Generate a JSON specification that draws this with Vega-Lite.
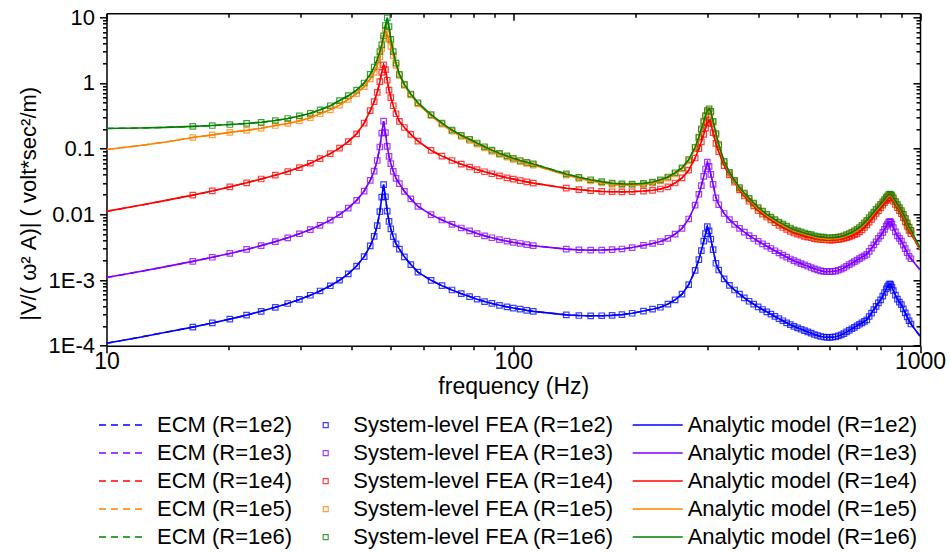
{
  "$schema": "https://vega.github.io/schema/vega-lite/v6.json",
  "width": 813.5,
  "height": 332.4,
  "autosize": {"type": "none"},
  "padding": {"left": 106.5, "top": 13.3, "right": 30, "bottom": 207.3},
  "background": "white",
  "config": {
    "view": {"stroke": null},
    "font": "Liberation Sans",
    "axis": {"grid": false, "tickColor": "black", "domainColor": "black", "tickWidth": 1.5, "domainWidth": 1.5, "labelColor": "black", "titleColor": "black", "labelFont": "Liberation Sans", "titleFont": "Liberation Sans", "titleFontWeight": "normal", "labelFlush": false},
    "legend": {"labelFont": "Liberation Sans", "labelFontSize": 22, "labelColor": "black", "padding": 0, "rowPadding": 0, "labelLimit": 0, "title": null, "direction": "vertical", "orient": "none"}
  },
  "datasets": {
    "curves": [
      {"f": 10, "R1e2": 1.09e-4, "R1e3": 1.09e-3, "R1e4": 0.0111, "R1e5": 0.097, "R1e6": 0.203},
      {"f": 12, "R1e2": 1.335e-4, "R1e3": 1.335e-3, "R1e4": 0.0136, "R1e5": 0.111, "R1e6": 0.206},
      {"f": 14, "R1e2": 1.6e-4, "R1e3": 1.6e-3, "R1e4": 0.0163, "R1e5": 0.126, "R1e6": 0.211},
      {"f": 16.3, "R1e2": 1.92e-4, "R1e3": 1.92e-3, "R1e4": 0.0196, "R1e5": 0.148, "R1e6": 0.218},
      {"f": 18.2, "R1e2": 2.22e-4, "R1e3": 2.22e-3, "R1e4": 0.0227, "R1e5": 0.162, "R1e6": 0.225},
      {"f": 20.1, "R1e2": 2.54e-4, "R1e3": 2.54e-3, "R1e4": 0.0262, "R1e5": 0.177, "R1e6": 0.233},
      {"f": 22.1, "R1e2": 2.92e-4, "R1e3": 2.92e-3, "R1e4": 0.0302, "R1e5": 0.19, "R1e6": 0.242},
      {"f": 24, "R1e2": 3.34e-4, "R1e3": 3.34e-3, "R1e4": 0.0345, "R1e5": 0.205, "R1e6": 0.252},
      {"f": 26, "R1e2": 3.84e-4, "R1e3": 3.84e-3, "R1e4": 0.0395, "R1e5": 0.225, "R1e6": 0.268},
      {"f": 27.9, "R1e2": 4.39e-4, "R1e3": 4.39e-3, "R1e4": 0.0448, "R1e5": 0.242, "R1e6": 0.288},
      {"f": 29.8, "R1e2": 5.06e-4, "R1e3": 5.06e-3, "R1e4": 0.0515, "R1e5": 0.265, "R1e6": 0.315},
      {"f": 31.7, "R1e2": 5.86e-4, "R1e3": 5.86e-3, "R1e4": 0.06, "R1e5": 0.296, "R1e6": 0.345},
      {"f": 33.5, "R1e2": 6.81e-4, "R1e3": 6.81e-3, "R1e4": 0.0705, "R1e5": 0.34, "R1e6": 0.39},
      {"f": 35.5, "R1e2": 8.17e-4, "R1e3": 8.17e-3, "R1e4": 0.084, "R1e5": 0.39, "R1e6": 0.45},
      {"f": 37.4, "R1e2": 9.93e-4, "R1e3": 9.92e-3, "R1e4": 0.102, "R1e5": 0.46, "R1e6": 0.54},
      {"f": 39.3, "R1e2": 1.243e-3, "R1e3": 0.0124, "R1e4": 0.128, "R1e5": 0.56, "R1e6": 0.64},
      {"f": 41.2, "R1e2": 1.632e-3, "R1e3": 0.0163, "R1e4": 0.168, "R1e5": 0.69, "R1e6": 0.78},
      {"f": 43, "R1e2": 2.27e-3, "R1e3": 0.0226, "R1e4": 0.245, "R1e5": 0.88, "R1e6": 1.0},
      {"f": 44.5, "R1e2": 3.3e-3, "R1e3": 0.0328, "R1e4": 0.38, "R1e5": 1.15, "R1e6": 1.35},
      {"f": 45.5, "R1e2": 4.61e-3, "R1e3": 0.0456, "R1e4": 0.52, "R1e5": 1.45, "R1e6": 1.75},
      {"f": 46.3, "R1e2": 6.74e-3, "R1e3": 0.066, "R1e4": 0.72, "R1e5": 1.85, "R1e6": 2.25},
      {"f": 47, "R1e2": 0.011, "R1e3": 0.106, "R1e4": 1.05, "R1e5": 2.5, "R1e6": 3.0},
      {"f": 47.5, "R1e2": 0.0183, "R1e3": 0.172, "R1e4": 1.45, "R1e5": 3.3, "R1e6": 3.8},
      {"f": 48, "R1e2": 0.0284, "R1e3": 0.263, "R1e4": 1.88, "R1e5": 4.8, "R1e6": 5.2},
      {"f": 48.5, "R1e2": 0.0185, "R1e3": 0.175, "R1e4": 1.6, "R1e5": 6.4, "R1e6": 7.5},
      {"f": 49, "R1e2": 0.0112, "R1e3": 0.108, "R1e4": 1.1, "R1e5": 5.6, "R1e6": 9.8},
      {"f": 49.5, "R1e2": 7.82e-3, "R1e3": 0.0765, "R1e4": 0.78, "R1e5": 4.6, "R1e6": 7.2},
      {"f": 50, "R1e2": 5.99e-3, "R1e3": 0.0592, "R1e4": 0.6, "R1e5": 3.6, "R1e6": 4.6},
      {"f": 50.7, "R1e2": 4.56e-3, "R1e3": 0.0452, "R1e4": 0.45, "R1e5": 2.6, "R1e6": 3.0},
      {"f": 51.5, "R1e2": 3.55e-3, "R1e3": 0.0352, "R1e4": 0.34, "R1e5": 1.85, "R1e6": 2.0},
      {"f": 52.5, "R1e2": 2.95e-3, "R1e3": 0.0293, "R1e4": 0.26, "R1e5": 1.3, "R1e6": 1.35},
      {"f": 54, "R1e2": 2.25e-3, "R1e3": 0.0224, "R1e4": 0.21, "R1e5": 0.92, "R1e6": 0.95},
      {"f": 56, "R1e2": 1.72e-3, "R1e3": 0.0172, "R1e4": 0.165, "R1e5": 0.66, "R1e6": 0.68},
      {"f": 58.3, "R1e2": 1.32e-3, "R1e3": 0.0132, "R1e4": 0.13, "R1e5": 0.48, "R1e6": 0.5},
      {"f": 62.8, "R1e2": 9.9e-4, "R1e3": 9.9e-3, "R1e4": 0.094, "R1e5": 0.317, "R1e6": 0.33},
      {"f": 66.8, "R1e2": 8.2e-4, "R1e3": 8.2e-3, "R1e4": 0.077, "R1e5": 0.235, "R1e6": 0.245},
      {"f": 70.7, "R1e2": 7.05e-4, "R1e3": 7.05e-3, "R1e4": 0.066, "R1e5": 0.184, "R1e6": 0.192},
      {"f": 74.5, "R1e2": 6.2e-4, "R1e3": 6.2e-3, "R1e4": 0.058, "R1e5": 0.154, "R1e6": 0.16},
      {"f": 78.1, "R1e2": 5.6e-4, "R1e3": 5.6e-3, "R1e4": 0.0525, "R1e5": 0.133, "R1e6": 0.139},
      {"f": 81.5, "R1e2": 5.1e-4, "R1e3": 5.1e-3, "R1e4": 0.048, "R1e5": 0.117, "R1e6": 0.122},
      {"f": 85, "R1e2": 4.7e-4, "R1e3": 4.7e-3, "R1e4": 0.0445, "R1e5": 0.103, "R1e6": 0.107},
      {"f": 88.6, "R1e2": 4.4e-4, "R1e3": 4.4e-3, "R1e4": 0.0415, "R1e5": 0.091, "R1e6": 0.095},
      {"f": 92.5, "R1e2": 4.12e-4, "R1e3": 4.12e-3, "R1e4": 0.0385, "R1e5": 0.082, "R1e6": 0.085},
      {"f": 96.5, "R1e2": 3.9e-4, "R1e3": 3.9e-3, "R1e4": 0.036, "R1e5": 0.0744, "R1e6": 0.0775},
      {"f": 100, "R1e2": 3.74e-4, "R1e3": 3.74e-3, "R1e4": 0.0344, "R1e5": 0.0686, "R1e6": 0.0715},
      {"f": 104, "R1e2": 3.6e-4, "R1e3": 3.6e-3, "R1e4": 0.0327, "R1e5": 0.0634, "R1e6": 0.066},
      {"f": 108, "R1e2": 3.45e-4, "R1e3": 3.45e-3, "R1e4": 0.0312, "R1e5": 0.0595, "R1e6": 0.062},
      {"f": 112, "R1e2": 3.33e-4, "R1e3": 3.33e-3, "R1e4": 0.0299, "R1e5": 0.0562, "R1e6": 0.0585},
      {"f": 135, "R1e2": 2.95e-4, "R1e3": 2.95e-3, "R1e4": 0.025, "R1e5": 0.0396, "R1e6": 0.0412},
      {"f": 145, "R1e2": 2.88e-4, "R1e3": 2.88e-3, "R1e4": 0.0238, "R1e5": 0.0351, "R1e6": 0.0366},
      {"f": 155, "R1e2": 2.85e-4, "R1e3": 2.85e-3, "R1e4": 0.0229, "R1e5": 0.0323, "R1e6": 0.0336},
      {"f": 165, "R1e2": 2.86e-4, "R1e3": 2.86e-3, "R1e4": 0.0223, "R1e5": 0.0302, "R1e6": 0.0315},
      {"f": 175, "R1e2": 2.9e-4, "R1e3": 2.9e-3, "R1e4": 0.0221, "R1e5": 0.0286, "R1e6": 0.0298},
      {"f": 185, "R1e2": 2.97e-4, "R1e3": 2.97e-3, "R1e4": 0.022, "R1e5": 0.0279, "R1e6": 0.0291},
      {"f": 196, "R1e2": 3.12e-4, "R1e3": 3.12e-3, "R1e4": 0.0221, "R1e5": 0.0277, "R1e6": 0.0289},
      {"f": 209, "R1e2": 3.37e-4, "R1e3": 3.37e-3, "R1e4": 0.0226, "R1e5": 0.0284, "R1e6": 0.0296},
      {"f": 220, "R1e2": 3.6e-4, "R1e3": 3.6e-3, "R1e4": 0.0232, "R1e5": 0.0298, "R1e6": 0.031},
      {"f": 230, "R1e2": 3.85e-4, "R1e3": 3.85e-3, "R1e4": 0.0243, "R1e5": 0.0322, "R1e6": 0.0335},
      {"f": 240, "R1e2": 4.3e-4, "R1e3": 4.3e-3, "R1e4": 0.0262, "R1e5": 0.0355, "R1e6": 0.037},
      {"f": 250, "R1e2": 5.0e-4, "R1e3": 5.0e-3, "R1e4": 0.03, "R1e5": 0.0413, "R1e6": 0.043},
      {"f": 260, "R1e2": 6.1e-4, "R1e3": 6.1e-3, "R1e4": 0.036, "R1e5": 0.049, "R1e6": 0.051},
      {"f": 270, "R1e2": 8.5e-4, "R1e3": 8.5e-3, "R1e4": 0.047, "R1e5": 0.065, "R1e6": 0.068},
      {"f": 280, "R1e2": 1.4e-3, "R1e3": 0.0138, "R1e4": 0.072, "R1e5": 0.1, "R1e6": 0.105},
      {"f": 286, "R1e2": 2.05e-3, "R1e3": 0.0202, "R1e4": 0.1, "R1e5": 0.143, "R1e6": 0.15},
      {"f": 290, "R1e2": 2.8e-3, "R1e3": 0.0273, "R1e4": 0.127, "R1e5": 0.19, "R1e6": 0.2},
      {"f": 294, "R1e2": 3.9e-3, "R1e3": 0.0378, "R1e4": 0.165, "R1e5": 0.25, "R1e6": 0.26},
      {"f": 297, "R1e2": 5.1e-3, "R1e3": 0.049, "R1e4": 0.205, "R1e5": 0.31, "R1e6": 0.32},
      {"f": 300, "R1e2": 6.5e-3, "R1e3": 0.0622, "R1e4": 0.25, "R1e5": 0.365, "R1e6": 0.38},
      {"f": 303, "R1e2": 5.6e-3, "R1e3": 0.0536, "R1e4": 0.275, "R1e5": 0.39, "R1e6": 0.405},
      {"f": 306, "R1e2": 4.2e-3, "R1e3": 0.0405, "R1e4": 0.24, "R1e5": 0.355, "R1e6": 0.37},
      {"f": 310, "R1e2": 2.9e-3, "R1e3": 0.0285, "R1e4": 0.175, "R1e5": 0.25, "R1e6": 0.26},
      {"f": 315, "R1e2": 1.8e-3, "R1e3": 0.0178, "R1e4": 0.12, "R1e5": 0.163, "R1e6": 0.17},
      {"f": 320, "R1e2": 1.42e-3, "R1e3": 0.014, "R1e4": 0.09, "R1e5": 0.11, "R1e6": 0.115},
      {"f": 330, "R1e2": 1.04e-3, "R1e3": 0.0103, "R1e4": 0.055, "R1e5": 0.0615, "R1e6": 0.064},
      {"f": 340, "R1e2": 8.3e-4, "R1e3": 8.3e-3, "R1e4": 0.04, "R1e5": 0.042, "R1e6": 0.0437},
      {"f": 350, "R1e2": 7.05e-4, "R1e3": 7.05e-3, "R1e4": 0.031, "R1e5": 0.0317, "R1e6": 0.033},
      {"f": 360, "R1e2": 6.1e-4, "R1e3": 6.1e-3, "R1e4": 0.0235, "R1e5": 0.0245, "R1e6": 0.0255},
      {"f": 370, "R1e2": 5.35e-4, "R1e3": 5.35e-3, "R1e4": 0.019, "R1e5": 0.0202, "R1e6": 0.021},
      {"f": 380, "R1e2": 4.75e-4, "R1e3": 4.75e-3, "R1e4": 0.0158, "R1e5": 0.0168, "R1e6": 0.0175},
      {"f": 390, "R1e2": 4.3e-4, "R1e3": 4.3e-3, "R1e4": 0.0134, "R1e5": 0.0142, "R1e6": 0.0148},
      {"f": 400, "R1e2": 3.89e-4, "R1e3": 3.89e-3, "R1e4": 0.0115, "R1e5": 0.0122, "R1e6": 0.0127},
      {"f": 410, "R1e2": 3.56e-4, "R1e3": 3.56e-3, "R1e4": 0.0101, "R1e5": 0.0108, "R1e6": 0.0112},
      {"f": 420, "R1e2": 3.28e-4, "R1e3": 3.28e-3, "R1e4": 0.0091, "R1e5": 0.0096, "R1e6": 0.01},
      {"f": 430, "R1e2": 3.02e-4, "R1e3": 3.02e-3, "R1e4": 0.0082, "R1e5": 0.0087, "R1e6": 0.0091},
      {"f": 440, "R1e2": 2.79e-4, "R1e3": 2.79e-3, "R1e4": 0.0075, "R1e5": 0.008, "R1e6": 0.0083},
      {"f": 450, "R1e2": 2.58e-4, "R1e3": 2.58e-3, "R1e4": 0.0068, "R1e5": 0.0073, "R1e6": 0.0076},
      {"f": 460, "R1e2": 2.4e-4, "R1e3": 2.4e-3, "R1e4": 0.0063, "R1e5": 0.0068, "R1e6": 0.0071},
      {"f": 470, "R1e2": 2.23e-4, "R1e3": 2.23e-3, "R1e4": 0.0059, "R1e5": 0.0063, "R1e6": 0.0066},
      {"f": 480, "R1e2": 2.09e-4, "R1e3": 2.09e-3, "R1e4": 0.0055, "R1e5": 0.006, "R1e6": 0.0062},
      {"f": 490, "R1e2": 1.97e-4, "R1e3": 1.97e-3, "R1e4": 0.0052, "R1e5": 0.0056, "R1e6": 0.0058},
      {"f": 500, "R1e2": 1.87e-4, "R1e3": 1.87e-3, "R1e4": 0.005, "R1e5": 0.0054, "R1e6": 0.0056},
      {"f": 510, "R1e2": 1.78e-4, "R1e3": 1.78e-3, "R1e4": 0.0048, "R1e5": 0.0052, "R1e6": 0.0054},
      {"f": 520, "R1e2": 1.7e-4, "R1e3": 1.7e-3, "R1e4": 0.0046, "R1e5": 0.005, "R1e6": 0.0052},
      {"f": 530, "R1e2": 1.62e-4, "R1e3": 1.62e-3, "R1e4": 0.0045, "R1e5": 0.0048, "R1e6": 0.005},
      {"f": 540, "R1e2": 1.55e-4, "R1e3": 1.55e-3, "R1e4": 0.0044, "R1e5": 0.0047, "R1e6": 0.0049},
      {"f": 550, "R1e2": 1.48e-4, "R1e3": 1.48e-3, "R1e4": 0.00428, "R1e5": 0.0045, "R1e6": 0.0047},
      {"f": 560, "R1e2": 1.43e-4, "R1e3": 1.43e-3, "R1e4": 0.0042, "R1e5": 0.0044, "R1e6": 0.0046},
      {"f": 570, "R1e2": 1.38e-4, "R1e3": 1.38e-3, "R1e4": 0.00414, "R1e5": 0.0043, "R1e6": 0.0045},
      {"f": 580, "R1e2": 1.355e-4, "R1e3": 1.35e-3, "R1e4": 0.0041, "R1e5": 0.0043, "R1e6": 0.0045},
      {"f": 590, "R1e2": 1.34e-4, "R1e3": 1.34e-3, "R1e4": 0.00407, "R1e5": 0.0042, "R1e6": 0.0044},
      {"f": 600, "R1e2": 1.34e-4, "R1e3": 1.34e-3, "R1e4": 0.00406, "R1e5": 0.0042, "R1e6": 0.0044},
      {"f": 610, "R1e2": 1.35e-4, "R1e3": 1.35e-3, "R1e4": 0.00406, "R1e5": 0.00425, "R1e6": 0.00442},
      {"f": 620, "R1e2": 1.37e-4, "R1e3": 1.37e-3, "R1e4": 0.0041, "R1e5": 0.00427, "R1e6": 0.00445},
      {"f": 630, "R1e2": 1.41e-4, "R1e3": 1.41e-3, "R1e4": 0.00415, "R1e5": 0.0043, "R1e6": 0.0045},
      {"f": 640, "R1e2": 1.46e-4, "R1e3": 1.46e-3, "R1e4": 0.0042, "R1e5": 0.0044, "R1e6": 0.0046},
      {"f": 650, "R1e2": 1.53e-4, "R1e3": 1.53e-3, "R1e4": 0.0043, "R1e5": 0.0045, "R1e6": 0.0047},
      {"f": 660, "R1e2": 1.62e-4, "R1e3": 1.62e-3, "R1e4": 0.0044, "R1e5": 0.0047, "R1e6": 0.0049},
      {"f": 670, "R1e2": 1.71e-4, "R1e3": 1.71e-3, "R1e4": 0.00455, "R1e5": 0.0049, "R1e6": 0.0051},
      {"f": 680, "R1e2": 1.81e-4, "R1e3": 1.81e-3, "R1e4": 0.0047, "R1e5": 0.0051, "R1e6": 0.0053},
      {"f": 690, "R1e2": 1.9e-4, "R1e3": 1.9e-3, "R1e4": 0.0049, "R1e5": 0.0054, "R1e6": 0.0056},
      {"f": 700, "R1e2": 2.01e-4, "R1e3": 2.01e-3, "R1e4": 0.0051, "R1e5": 0.0057, "R1e6": 0.0059},
      {"f": 710, "R1e2": 2.12e-4, "R1e3": 2.12e-3, "R1e4": 0.0054, "R1e5": 0.006, "R1e6": 0.0063},
      {"f": 720, "R1e2": 2.23e-4, "R1e3": 2.23e-3, "R1e4": 0.0058, "R1e5": 0.0065, "R1e6": 0.0068},
      {"f": 730, "R1e2": 2.34e-4, "R1e3": 2.34e-3, "R1e4": 0.0063, "R1e5": 0.0071, "R1e6": 0.0074},
      {"f": 740, "R1e2": 2.47e-4, "R1e3": 2.45e-3, "R1e4": 0.0069, "R1e5": 0.0078, "R1e6": 0.0081},
      {"f": 750, "R1e2": 2.78e-4, "R1e3": 2.73e-3, "R1e4": 0.0076, "R1e5": 0.0085, "R1e6": 0.0089},
      {"f": 760, "R1e2": 3.14e-4, "R1e3": 3.05e-3, "R1e4": 0.0084, "R1e5": 0.0094, "R1e6": 0.0098},
      {"f": 770, "R1e2": 3.55e-4, "R1e3": 3.43e-3, "R1e4": 0.0093, "R1e5": 0.0104, "R1e6": 0.0108},
      {"f": 780, "R1e2": 3.98e-4, "R1e3": 3.82e-3, "R1e4": 0.0103, "R1e5": 0.0114, "R1e6": 0.0119},
      {"f": 790, "R1e2": 4.48e-4, "R1e3": 4.3e-3, "R1e4": 0.0113, "R1e5": 0.0125, "R1e6": 0.013},
      {"f": 800, "R1e2": 5.0e-4, "R1e3": 4.7e-3, "R1e4": 0.0125, "R1e5": 0.0136, "R1e6": 0.0142},
      {"f": 810, "R1e2": 5.69e-4, "R1e3": 5.3e-3, "R1e4": 0.0138, "R1e5": 0.0149, "R1e6": 0.0155},
      {"f": 818, "R1e2": 6.46e-4, "R1e3": 5.9e-3, "R1e4": 0.015, "R1e5": 0.016, "R1e6": 0.0167},
      {"f": 826, "R1e2": 7.33e-4, "R1e3": 6.6e-3, "R1e4": 0.0162, "R1e5": 0.0174, "R1e6": 0.0181},
      {"f": 832, "R1e2": 7.94e-4, "R1e3": 7.1e-3, "R1e4": 0.017, "R1e5": 0.0182, "R1e6": 0.019},
      {"f": 838, "R1e2": 8.47e-4, "R1e3": 7.6e-3, "R1e4": 0.0178, "R1e5": 0.0191, "R1e6": 0.0199},
      {"f": 843, "R1e2": 8.75e-4, "R1e3": 7.8e-3, "R1e4": 0.0181, "R1e5": 0.0195, "R1e6": 0.0203},
      {"f": 848, "R1e2": 8.5e-4, "R1e3": 7.6e-3, "R1e4": 0.0178, "R1e5": 0.0192, "R1e6": 0.02},
      {"f": 853, "R1e2": 7.76e-4, "R1e3": 7.1e-3, "R1e4": 0.0171, "R1e5": 0.0185, "R1e6": 0.0193},
      {"f": 860, "R1e2": 6.92e-4, "R1e3": 6.3e-3, "R1e4": 0.0158, "R1e5": 0.0171, "R1e6": 0.0178},
      {"f": 870, "R1e2": 5.89e-4, "R1e3": 5.4e-3, "R1e4": 0.0141, "R1e5": 0.0152, "R1e6": 0.0158},
      {"f": 880, "R1e2": 5.13e-4, "R1e3": 4.7e-3, "R1e4": 0.0126, "R1e5": 0.0135, "R1e6": 0.0141},
      {"f": 890, "R1e2": 4.62e-4, "R1e3": 4.3e-3, "R1e4": 0.0114, "R1e5": 0.0122, "R1e6": 0.0127},
      {"f": 900, "R1e2": 4.22e-4, "R1e3": 3.9e-3, "R1e4": 0.0102, "R1e5": 0.0109, "R1e6": 0.0114},
      {"f": 910, "R1e2": 3.63e-4, "R1e3": 3.4e-3, "R1e4": 0.0089, "R1e5": 0.0096, "R1e6": 0.01},
      {"f": 920, "R1e2": 3.16e-4, "R1e3": 3.0e-3, "R1e4": 0.0077, "R1e5": 0.0084, "R1e6": 0.0087},
      {"f": 930, "R1e2": 2.75e-4, "R1e3": 2.6e-3, "R1e4": 0.0066, "R1e5": 0.0071, "R1e6": 0.0074},
      {"f": 940, "R1e2": 2.4e-4, "R1e3": 2.3e-3, "R1e4": 0.0057, "R1e5": 0.0061, "R1e6": 0.0064},
      {"f": 950, "R1e2": 2.14e-4, "R1e3": 2.11e-3, "R1e4": 0.0051, "R1e5": 0.0055, "R1e6": 0.0057},
      {"f": 1000, "R1e2": 1.4e-4, "R1e3": 1.43e-3, "R1e4": 0.0029, "R1e5": 0.003, "R1e6": 0.0031}
    ]
  },
  "data": {"name": "curves"},
  "transform": [{"fold": ["R1e2", "R1e3", "R1e4", "R1e5", "R1e6"], "as": ["R", "v"]}],
  "layer": [
    {
      "mark": {"type": "line", "strokeDash": [7, 5], "strokeWidth": 1.5, "clip": true},
      "encoding": {
        "x": {"field": "f", "type": "quantitative", "scale": {"type": "log", "domain": [10, 1000], "nice": false},
          "axis": {"orient": "bottom", "values": [10, 100, 1000], "format": "d", "tickSize": 7, "labelFontSize": 23, "labelPadding": -2, "title": "frequency (Hz)", "titleFontSize": 23, "titleBaseline": "middle", "titleY": 41}},
        "y": {"field": "v", "type": "quantitative", "scale": {"type": "log", "domain": [0.0001, 11.5], "nice": false},
          "axis": {"orient": "left", "values": [0.0001, 0.001, 0.01, 0.1, 1, 10], "labelExpr": "datum.value < 0.0005 ? '1E-4' : datum.value < 0.005 ? '1E-3' : datum.value < 0.05 ? '0.01' : datum.value < 0.5 ? '0.1' : datum.value < 5 ? '1' : '10'", "tickSize": 7, "labelFontSize": 22, "labelPadding": 5, "title": "|V/( ω² A)| ( volt*sec²/m)", "titleFontSize": 22, "titleBaseline": "middle", "titleAngle": -90, "titleX": -78, "titleY": 190}},
        "color": {"field": "R", "type": "nominal",
          "scale": {"domain": ["R1e2", "R1e3", "R1e4", "R1e5", "R1e6"], "range": ["#0000ff", "#8000ff", "#ff0000", "#ff8000", "#008000"]},
          "legend": {"legendX": -8.5, "legendY": 398, "symbolType": "stroke", "symbolSize": 2209, "symbolStrokeWidth": 1.5, "symbolDash": [7, 5], "clipHeight": 27.5, "labelOffset": 10, "labelExpr": "'ECM (R=' + slice(datum.label, 1) + ')'"}}
      }
    },
    {
      "transform": [{"filter": "datum.f >= 16 && datum.f <= 950"}],
      "mark": {"type": "point", "shape": "square", "filled": false, "size": 30, "strokeWidth": 1.2, "opacity": 0.75, "clip": true},
      "encoding": {
        "x": {"field": "f", "type": "quantitative", "axis": {"orient": "bottom", "values": [20, 30, 40, 50, 60, 70, 80, 90, 200, 300, 400, 500, 600, 700, 800, 900], "labels": false, "domain": false, "tickSize": 4, "title": null}},
        "y": {"field": "v", "type": "quantitative", "axis": {"orient": "left", "values": [0.0002, 0.0003, 0.0004, 0.0005, 0.0006, 0.0007, 0.0008, 0.0009, 0.002, 0.003, 0.004, 0.005, 0.006, 0.007, 0.008, 0.009, 0.02, 0.03, 0.04, 0.05, 0.06, 0.07, 0.08, 0.09, 0.2, 0.3, 0.4, 0.5, 0.6, 0.7, 0.8, 0.9, 2, 3, 4, 5, 6, 7, 8, 9], "labels": false, "domain": false, "tickSize": 4, "title": null}},
        "color": {"field": "R", "type": "nominal",
          "scale": {"domain": ["R1e2", "R1e3", "R1e4", "R1e5", "R1e6"], "range": ["#0000ff", "#8000ff", "#ff0000", "#ff8000", "#008000"]},
          "legend": {"legendX": 208.2, "legendY": 398, "symbolType": "square", "symbolSize": 25, "symbolStrokeWidth": 1.2, "symbolFillColor": "transparent", "clipHeight": 27.5, "labelOffset": 16.6, "labelExpr": "'System-level FEA (R=' + slice(datum.label, 1) + ')'"}}
      }
    },
    {
      "mark": {"type": "line", "strokeWidth": 1.6, "clip": true},
      "encoding": {
        "x": {"field": "f", "type": "quantitative", "axis": {"orient": "top", "values": [10, 100, 1000], "labels": false, "tickSize": -7, "title": null}},
        "y": {"field": "v", "type": "quantitative", "axis": {"orient": "right", "values": [0.0001, 0.001, 0.01, 0.1, 1, 10], "labels": false, "tickSize": -7, "title": null}},
        "color": {"field": "R", "type": "nominal",
          "scale": {"domain": ["R1e2", "R1e3", "R1e4", "R1e5", "R1e6"], "range": ["#0000ff", "#8000ff", "#ff0000", "#ff8000", "#008000"]},
          "legend": {"legendX": 525.2, "legendY": 398, "symbolType": "stroke", "symbolSize": 2500, "symbolStrokeWidth": 1.6, "clipHeight": 27.5, "labelOffset": 4, "labelExpr": "'Analytic model (R=' + slice(datum.label, 1) + ')'"}}
      }
    },
    {
      "mark": {"type": "point", "opacity": 0},
      "encoding": {
        "x": {"field": "f", "type": "quantitative", "axis": {"orient": "top", "values": [20, 30, 40, 50, 60, 70, 80, 90, 200, 300, 400, 500, 600, 700, 800, 900], "labels": false, "domain": false, "tickSize": -4, "title": null}},
        "y": {"field": "v", "type": "quantitative", "axis": {"orient": "right", "values": [0.0002, 0.0003, 0.0004, 0.0005, 0.0006, 0.0007, 0.0008, 0.0009, 0.002, 0.003, 0.004, 0.005, 0.006, 0.007, 0.008, 0.009, 0.02, 0.03, 0.04, 0.05, 0.06, 0.07, 0.08, 0.09, 0.2, 0.3, 0.4, 0.5, 0.6, 0.7, 0.8, 0.9, 2, 3, 4, 5, 6, 7, 8, 9], "labels": false, "domain": false, "tickSize": -4, "title": null}}
      }
    }
  ],
  "resolve": {"scale": {"color": "independent"}, "axis": {"x": "independent", "y": "independent"}}
}
